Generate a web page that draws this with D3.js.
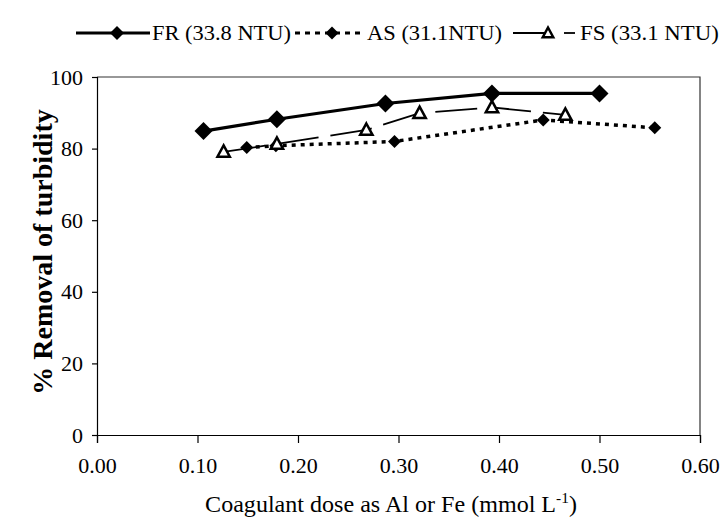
<!DOCTYPE html>
<html>
<head>
<meta charset="utf-8">
<script src="https://cdn.jsdelivr.net/npm/d3@7"></script>
<style>
  html, body { margin: 0; padding: 0; background: #fff; }
  svg { display: block; }
  svg text { font-family: "Liberation Serif", "Times New Roman", Tinos, "DejaVu Serif", "Noto Serif", serif; fill: #000; }
</style>
</head>
<body>
<svg id="chart" width="721" height="520"></svg>
<script>
// Coagulant dose (mmol L-1) and turbidity removal (%) for each coagulant
const frDose = [0.106, 0.179, 0.287, 0.393, 0.500];
const frRemoval = [84.9, 88.2, 92.6, 95.4, 95.4];

const asDose = [0.149, 0.178, 0.296, 0.444, 0.555];
const asRemoval = [80.3, 80.8, 82.0, 88.0, 85.8];

const fsDose = [0.126, 0.179, 0.268, 0.321, 0.393, 0.466];
const fsRemoval = [79.1, 81.3, 85.2, 89.9, 91.5, 89.4];

const seriesNames = ["FR (33.8 NTU)", "AS (31.1NTU)", "FS (33.1 NTU)"];
const xTicks = [0, 0.1, 0.2, 0.3, 0.4, 0.5, 0.6];
const yTicks = [0, 20, 40, 60, 80, 100];

const serif = '"Liberation Serif", "Times New Roman", Tinos, "DejaVu Serif", serif';
const svg = d3.select("#chart");
const plotL = 97, plotR = 700, plotT = 77, plotB = 435;

const x = d3.scaleLinear().domain([0, 0.6]).range([plotL, plotR]);
const y = d3.scaleLinear().domain([0, 100]).range([plotB, plotT]);

// squeeze or stretch a text horizontally so it spans the given width
function fitWidth(sel, width, cx) {
  const w = sel.node().getBBox().width;
  const k = width / w;
  sel.attr("transform", `translate(${cx},0) scale(${k},1) translate(${-cx},0)`);
}

// plot frame (top and right edges)
svg.append("path")
  .attr("d", `M${plotL},${plotT}H${plotR}V${plotB}`)
  .attr("fill", "none").attr("stroke", "#333").attr("stroke-width", 1.2);

// axes
const xAxis = svg.append("g").attr("transform", `translate(0,${plotB})`)
  .call(d3.axisBottom(x).tickValues(xTicks).tickSize(8).tickPadding(14).tickFormat(d3.format(".2f")));
const yAxis = svg.append("g").attr("transform", `translate(${plotL},0)`)
  .call(d3.axisLeft(y).tickValues(yTicks).tickSize(5).tickPadding(9));
[xAxis, yAxis].forEach(g => {
  g.attr("font-family", null).attr("font-size", null);
  g.select(".domain").attr("stroke", "#000").attr("stroke-width", 1.2);
  g.selectAll(".tick line").attr("stroke", "#000").attr("stroke-width", 1.2);
  g.selectAll(".tick text").style("font-size", "22px").style("font-family", serif);
});

// axis titles
const xt = svg.append("text")
  .attr("x", 391).attr("y", 512)
  .attr("text-anchor", "middle").style("font-size", "23.5px");
xt.append("tspan").text("Coagulant dose as Al or Fe (mmol L");
xt.append("tspan").attr("dy", -9).style("font-size", "15px").text("-1");
xt.append("tspan").attr("dy", 9).text(")");
fitWidth(xt, 372, 391);

const yt = svg.append("text")
  .attr("x", 0).attr("y", 0)
  .attr("transform", `translate(52,${(plotT + plotB) / 2 - 4}) rotate(-90)`)
  .attr("text-anchor", "middle").style("font-size", "28px").style("font-weight", "bold")
  .text("% Removal of turbidity");

const line = d3.line().x(d => x(d[0])).y(d => y(d[1]));
const diamond = r => `M0,${-r}L${r},0L0,${r}L${-r},0Z`;
const triangle = s => `M0,${-s}L${s * 0.95},${s * 0.75}L${-s * 0.95},${s * 0.75}Z`;

const fr = d3.zip(frDose, frRemoval);
const as = d3.zip(asDose, asRemoval);
const fs = d3.zip(fsDose, fsRemoval);

// AS: dotted line, small diamonds
svg.append("path").datum(as).attr("d", line)
  .attr("fill", "none").attr("stroke", "#000").attr("stroke-width", 3.5)
  .attr("stroke-dasharray", "4,5");
svg.selectAll(".as").data(as).join("path")
  .attr("transform", d => `translate(${x(d[0])},${y(d[1])})`)
  .attr("d", diamond(6.5)).attr("fill", "#000");

// FS: long-dashed thin line, open triangles
svg.append("path").datum(fs).attr("d", line)
  .attr("fill", "none").attr("stroke", "#000").attr("stroke-width", 1.8)
  .attr("stroke-dasharray", "42,12");
svg.selectAll(".fs").data(fs).join("path")
  .attr("transform", d => `translate(${x(d[0])},${y(d[1])})`)
  .attr("d", triangle(6.5)).attr("fill", "#fff").attr("stroke", "#000").attr("stroke-width", 2.5);

// FR: solid heavy line, large diamonds
svg.append("path").datum(fr).attr("d", line)
  .attr("fill", "none").attr("stroke", "#000").attr("stroke-width", 3.2);
svg.selectAll(".fr").data(fr).join("path")
  .attr("transform", d => `translate(${x(d[0])},${y(d[1])})`)
  .attr("d", diamond(9)).attr("fill", "#000");

// legend
const ly = 33;
const leg = svg.append("g");
leg.append("line").attr("x1", 76).attr("x2", 150).attr("y1", ly).attr("y2", ly)
  .attr("stroke", "#000").attr("stroke-width", 3.2);
leg.append("path").attr("transform", `translate(117,${ly})`).attr("d", diamond(7)).attr("fill", "#000");
const l1 = leg.append("text").attr("x", 152).attr("y", ly + 7).style("font-size", "22px").text(seriesNames[0]);
fitWidth(l1, 139, 152);

leg.append("line").attr("x1", 295).attr("x2", 364).attr("y1", ly).attr("y2", ly)
  .attr("stroke", "#000").attr("stroke-width", 3).attr("stroke-dasharray", "5,5");
leg.append("path").attr("transform", `translate(332,${ly})`).attr("d", diamond(6.5)).attr("fill", "#000");
const l2 = leg.append("text").attr("x", 367).attr("y", ly + 7).style("font-size", "22px").text(seriesNames[1]);
fitWidth(l2, 135, 367);

leg.append("line").attr("x1", 513).attr("x2", 552).attr("y1", ly).attr("y2", ly)
  .attr("stroke", "#000").attr("stroke-width", 1.8);
leg.append("line").attr("x1", 564).attr("x2", 575).attr("y1", ly).attr("y2", ly)
  .attr("stroke", "#000").attr("stroke-width", 1.8);
leg.append("path").attr("transform", `translate(548,${ly})`).attr("d", triangle(5.5))
  .attr("fill", "#fff").attr("stroke", "#000").attr("stroke-width", 2.5);
const l3 = leg.append("text").attr("x", 580).attr("y", ly + 7).style("font-size", "22px").text(seriesNames[2]);
fitWidth(l3, 139, 580);
</script>
</body>
</html>
